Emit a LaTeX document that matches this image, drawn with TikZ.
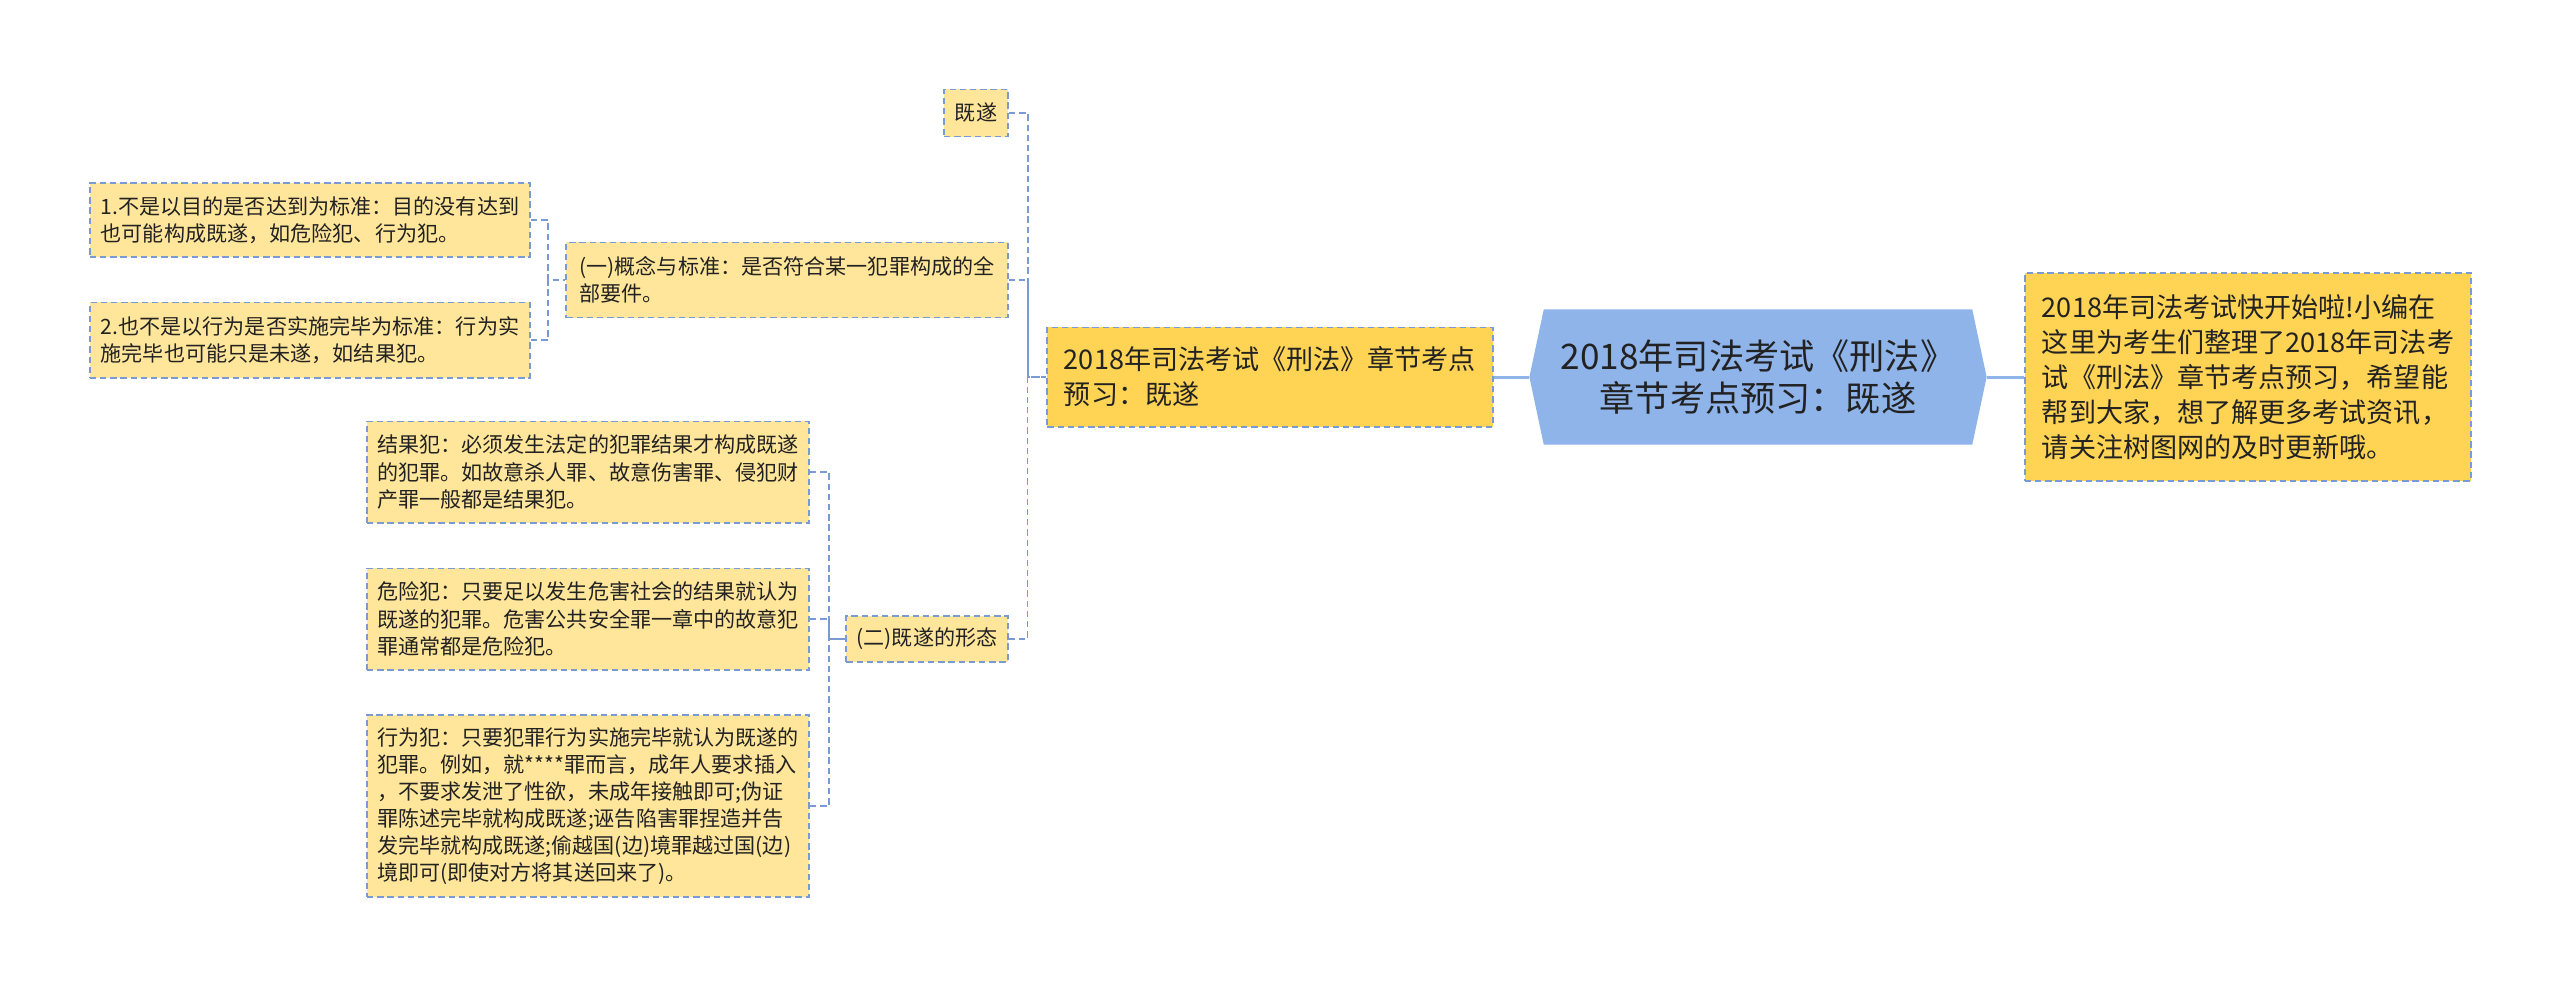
\documentclass[tikz,border=0pt]{standalone}
\usepackage{fontspec}
\setmainfont{Noto Sans CJK SC}
\usetikzlibrary{shapes.symbols}
\definecolor{rootblue}{RGB}{143,180,234}
\definecolor{edgeblue}{RGB}{122,154,212}
\definecolor{mainfill}{RGB}{255,211,84}
\definecolor{subfill}{RGB}{255,230,155}
\definecolor{inkgray}{RGB}{34,34,34}
\begin{document}
\begin{tikzpicture}[x=0.01cm, y=-0.01cm, text=inkgray,
          box/.style={draw=edgeblue, line width=0.55pt, dash pattern=on 1.8pt off 1.1pt,
            rectangle, align=left, inner xsep=0.1cm, inner ysep=0pt},
          mainbox/.style={box, fill=mainfill, font=\fontsize{7.7}{10}\selectfont},
          subbox/.style={box, fill=subfill, font=\fontsize{6}{7.7}\selectfont},
          rootbox/.style={signal, signal to=west and east, signal pointer angle=156,
            fill=rootblue, align=center, inner sep=0pt,
            minimum width=4.57cm, minimum height=1.35cm,
            font=\fontsize{10}{12}\selectfont},
          trunk/.style={rootblue, line width=0.85pt},
          link/.style={edgeblue, line width=0.55pt, dash pattern=on 1.8pt off 1.1pt}]
        \useasboundingbox (0,0) rectangle (2560,987);
        \node[rootbox] (root) at (1758,377) {2018年司法考试《刑法》\\章节考点预习：既遂};
        \node[mainbox, minimum width=4.46cm, minimum height=2.07cm] (intro) at (2248,377)
          {2018年司法考试快开始啦!小编在\\这里为考生们整理了2018年司法考\\试《刑法》章节考点预习，希望能\\帮到大家，想了解更多考试资讯，\\请关注树图网的及时更新哦。};
        \node[mainbox, minimum width=4.45cm, minimum height=0.99cm] (topic) at (1270,377)
          {2018年司法考试《刑法》章节考点\\预习：既遂};
        % first level under the topic
        \node[subbox, minimum width=0.64cm, minimum height=0.47cm] (s1) at (976,113) {既遂};
        \node[subbox, minimum width=4.41cm, minimum height=0.75cm] (s2) at (787,280)
          {(一)概念与标准：是否符合某一犯罪构成的全\\部要件。};
        \node[subbox, minimum width=1.61cm, minimum height=0.46cm] (s3) at (927,639) {(二)既遂的形态};
        % leaves
        \node[subbox, minimum width=4.40cm, minimum height=0.74cm] (s2a) at (310,220)
          {1.不是以目的是否达到为标准：目的没有达到\\也可能构成既遂，如危险犯、行为犯。};
        \node[subbox, minimum width=4.40cm, minimum height=0.75cm] (s2b) at (310,340)
          {2.也不是以行为是否实施完毕为标准：行为实\\施完毕也可能只是未遂，如结果犯。};
        \node[subbox, minimum width=4.39cm, minimum height=1.01cm] (s3a) at (588,472)
          {结果犯：必须发生法定的犯罪结果才构成既遂\\的犯罪。如故意杀人罪、故意伤害罪、侵犯财\\产罪一般都是结果犯。};
        \node[subbox, minimum width=4.39cm, minimum height=1.01cm] (s3b) at (588,619)
          {危险犯：只要足以发生危害社会的结果就认为\\既遂的犯罪。危害公共安全罪一章中的故意犯\\罪通常都是危险犯。};
        \node[subbox, minimum width=4.39cm, minimum height=1.82cm] (s3c) at (588,806)
          {行为犯：只要犯罪行为实施完毕就认为既遂的\\犯罪。例如，就****罪而言，成年人要求插入\\，不要求发泄了性欲，未成年接触即可;伪证\\罪陈述完毕就构成既遂;诬告陷害罪捏造并告\\发完毕就构成既遂;偷越国(边)境罪越过国(边)\\境即可(即使对方将其送回来了)。};
        \draw[trunk] (topic.east) -- (root.west);
        \draw[trunk] (root.east) -- (intro.west);
        \foreach \c in {s1,s2,s3} {
          \draw[link] (\c.east) -- ++(19,0) |- (topic.west);
        }
        \foreach \c in {s2a,s2b} {
          \draw[link] (\c.east) -- ++(17,0) |- (s2.west);
        }
        \foreach \c in {s3a,s3b,s3c} {
          \draw[link] (\c.east) -- ++(19,0) |- (s3.west);
        }
      \end{tikzpicture}
\end{document}
